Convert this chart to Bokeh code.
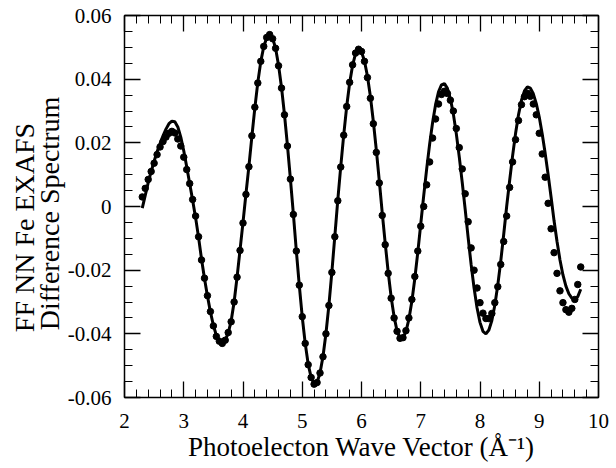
from bokeh.plotting import figure
from bokeh.models import LinearAxis, SingleIntervalTicker, CustomJSTickFormatter, Range1d
from bokeh.embed import file_html
from bokeh.resources import INLINE

k = [2.30, 2.35, 2.40, 2.45, 2.50, 2.55, 2.60, 2.65, 2.70, 2.75,
     2.80, 2.85, 2.90, 2.95, 3.00, 3.05, 3.10, 3.15, 3.20, 3.25,
     3.30, 3.35, 3.40, 3.45, 3.50, 3.55, 3.60, 3.65, 3.70, 3.75,
     3.80, 3.85, 3.90, 3.95, 4.00, 4.05, 4.10, 4.15, 4.20, 4.25,
     4.30, 4.35, 4.40, 4.45, 4.50, 4.55, 4.60, 4.65, 4.70, 4.75,
     4.80, 4.85, 4.90, 4.95, 5.00, 5.05, 5.10, 5.15, 5.20, 5.25,
     5.30, 5.35, 5.40, 5.45, 5.50, 5.55, 5.60, 5.65, 5.70, 5.75,
     5.80, 5.85, 5.90, 5.95, 6.00, 6.05, 6.10, 6.15, 6.20, 6.25,
     6.30, 6.35, 6.40, 6.45, 6.50, 6.55, 6.60, 6.65, 6.70, 6.75,
     6.80, 6.85, 6.90, 6.95, 7.00, 7.05, 7.10, 7.15, 7.20, 7.25,
     7.30, 7.35, 7.40, 7.45, 7.50, 7.55, 7.60, 7.65, 7.70, 7.75,
     7.80, 7.85, 7.90, 7.95, 8.00, 8.05, 8.10, 8.15, 8.20, 8.25,
     8.30, 8.35, 8.40, 8.45, 8.50, 8.55, 8.60, 8.65, 8.70, 8.75,
     8.80, 8.85, 8.90, 8.95, 9.00, 9.05, 9.10, 9.15, 9.20, 9.25,
     9.30, 9.35, 9.40, 9.45, 9.50, 9.55, 9.60, 9.65, 9.70]

fit = [-0.0005, 0.0035, 0.0075, 0.0110, 0.0142, 0.0172, 0.0198, 0.0222, 0.0243, 0.0260,
       0.0268, 0.0266, 0.0250, 0.0218, 0.0175, 0.0125, 0.0072, 0.0020, -0.0035, -0.0097,
       -0.0165, -0.0226, -0.0281, -0.0331, -0.0373, -0.0405, -0.0423, -0.0428, -0.0420, -0.0398,
       -0.0360, -0.0300, -0.0222, -0.0136, -0.0050, 0.0040, 0.0127, 0.0220, 0.0310, 0.0390,
       0.0455, 0.0502, 0.0530, 0.0539, 0.0529, 0.0497, 0.0444, 0.0374, 0.0289, 0.0192,
       0.0087, -0.0023, -0.0139, -0.0248, -0.0347, -0.0430, -0.0495, -0.0537, -0.0557, -0.0552,
       -0.0523, -0.0471, -0.0399, -0.0310, -0.0205, -0.0093, 0.0021, 0.0126, 0.0225, 0.0314,
       0.0388, 0.0444, 0.0480, 0.0494, 0.0486, 0.0457, 0.0410, 0.0346, 0.0267, 0.0178,
       0.0081, -0.0020, -0.0115, -0.0205, -0.0284, -0.0346, -0.0391, -0.0413, -0.0413, -0.0393,
       -0.0354, -0.0298, -0.0226, -0.0144, -0.0055, 0.0034, 0.0118, 0.0196, 0.0264, 0.0320,
       0.0360, 0.0382, 0.0386, 0.0371, 0.0339, 0.0291, 0.0229, 0.0156, 0.0076, -0.0009,
       -0.0098, -0.0182, -0.0256, -0.0318, -0.0364, -0.0392, -0.0400, -0.0388, -0.0358, -0.0310,
       -0.0247, -0.0172, -0.0088, 0.0000, 0.0081, 0.0159, 0.0229, 0.0288, 0.0334, 0.0363,
       0.0376, 0.0372, 0.0354, 0.0323, 0.0281, 0.0228, 0.0167, 0.0100, 0.0029, -0.0045,
       -0.0110, -0.0168, -0.0215, -0.0250, -0.0274, -0.0288, -0.0292, -0.0283, -0.0260]

data = [0.0030, 0.0057, 0.0085, 0.0110, 0.0136, 0.0163, 0.0187, 0.0204, 0.0218, 0.0230,
        0.0236, 0.0231, 0.0212, 0.0190, 0.0155, 0.0116, 0.0072, 0.0022, -0.0030, -0.0095,
        -0.0168, -0.0225, -0.0280, -0.0330, -0.0375, -0.0408, -0.0423, -0.0430, -0.0420, -0.0396,
        -0.0362, -0.0300, -0.0222, -0.0138, -0.0052, 0.0038, 0.0125, 0.0222, 0.0312, 0.0388,
        0.0456, 0.0503, 0.0531, 0.0540, 0.0527, 0.0497, 0.0442, 0.0372, 0.0288, 0.0190,
        0.0086, -0.0025, -0.0140, -0.0247, -0.0346, -0.0430, -0.0497, -0.0537, -0.0558, -0.0553,
        -0.0523, -0.0472, -0.0400, -0.0311, -0.0207, -0.0095, 0.0018, 0.0124, 0.0224, 0.0314,
        0.0390, 0.0445, 0.0482, 0.0494, 0.0487, 0.0456, 0.0405, 0.0340, 0.0260, 0.0170,
        0.0074, -0.0028, -0.0120, -0.0210, -0.0288, -0.0350, -0.0392, -0.0414, -0.0412, -0.0390,
        -0.0350, -0.0292, -0.0220, -0.0140, -0.0062, 0.0000, 0.0068, 0.0140, 0.0215, 0.0275,
        0.0322, 0.0352, 0.0362, 0.0355, 0.0334, 0.0300, 0.0245, 0.0185, 0.0118, 0.0040,
        -0.0048, -0.0130, -0.0200, -0.0256, -0.0302, -0.0335, -0.0352, -0.0352, -0.0336, -0.0302,
        -0.0252, -0.0182, -0.0110, -0.0030, 0.0060, 0.0140, 0.0210, 0.0270, 0.0320, 0.0345,
        0.0356, 0.0346, 0.0322, 0.0288, 0.0230, 0.0165, 0.0092, 0.0010, -0.0070, -0.0145,
        -0.0210, -0.0265, -0.0302, -0.0324, -0.0332, -0.0320, -0.0292, -0.0245, -0.0190]

x_label = "Photoelecton Wave Vector (\u00c5\u207b\u00b9)"
y_label_1 = "FF NN Fe EXAFS"
y_label_2 = "Difference Spectrum"

FONT = "Liberation Serif"
NBSP = "\u00a0"

p = figure(width=616, height=468, x_range=Range1d(2, 10), y_range=Range1d(-0.06, 0.06),
           output_backend="svg", toolbar_location=None,
           min_border_left=124, min_border_right=18, min_border_top=15, min_border_bottom=71)
p.grid.visible = False
p.outline_line_color = None
p.background_fill_color = "white"
p.border_fill_color = "white"

yfmt = CustomJSTickFormatter(code="return Math.abs(tick) < 1e-9 ? '0' : tick.toFixed(2);")
blank = CustomJSTickFormatter(code="return '';")


def style(ax, labels=True):
    ax.axis_line_color = "black"
    ax.axis_line_width = 1.5
    ax.major_tick_line_color = "black"
    ax.minor_tick_line_color = "black"
    ax.major_tick_line_width = 1.3
    ax.minor_tick_line_width = 1.0
    ax.major_tick_in = 16
    ax.major_tick_out = 0
    ax.minor_tick_in = 8
    ax.minor_tick_out = 0
    if labels:
        ax.major_label_text_font = FONT
        ax.major_label_text_font_size = "21px"
        ax.major_label_text_color = "black"
    else:
        ax.formatter = blank
        ax.major_label_text_font_size = "1px"
        ax.major_label_standoff = 0


xb = p.xaxis[0]
xb.ticker = SingleIntervalTicker(interval=1, num_minor_ticks=5)
style(xb)
xb.major_label_standoff = 16
xb.axis_label = x_label
xb.axis_label_text_font = FONT
xb.axis_label_text_font_size = "27px"
xb.axis_label_text_font_style = "normal"
xb.axis_label_text_color = "black"
xb.axis_label_standoff = 1

yl = p.yaxis[0]
yl.ticker = SingleIntervalTicker(interval=0.02, num_minor_ticks=4)
yl.formatter = yfmt
style(yl)
yl.major_label_standoff = 13
# trailing no-break spaces push the visible text toward the bottom, as in the reference
yl.axis_label = y_label_1 + NBSP * 6 + "\n" + y_label_2 + NBSP * 2
yl.axis_label_text_font = FONT
yl.axis_label_text_font_size = "28px"
yl.axis_label_text_font_style = "normal"
yl.axis_label_text_color = "black"
yl.axis_label_text_line_height = 0.8
yl.axis_label_standoff = 0

xt = LinearAxis(ticker=SingleIntervalTicker(interval=1, num_minor_ticks=5))
style(xt, labels=False)
p.add_layout(xt, "above")

yr = LinearAxis(ticker=SingleIntervalTicker(interval=0.02, num_minor_ticks=4))
style(yr, labels=False)
p.add_layout(yr, "right")

p.line(k, fit, line_color="black", line_width=3)
p.scatter(k, data, size=6.5, fill_color="black", line_color="black")

open("out.html", "w").write(file_html(p, INLINE))
